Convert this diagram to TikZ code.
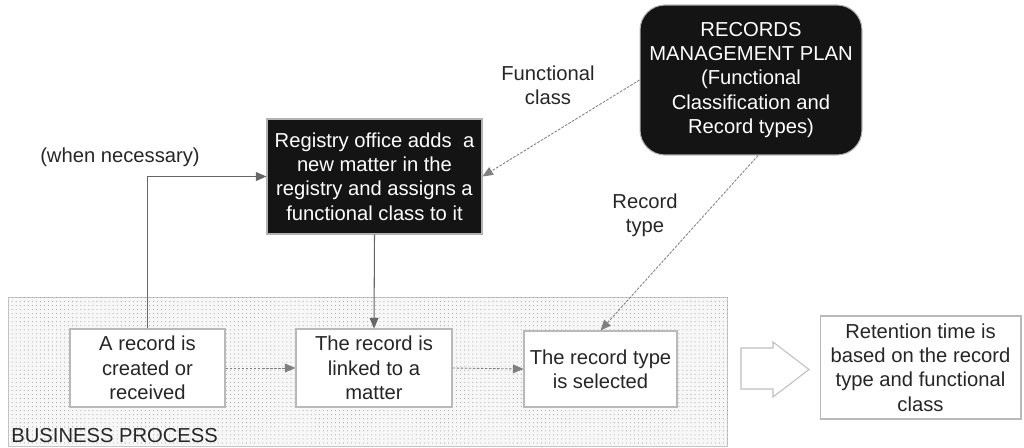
\documentclass[tikz,border=0pt]{standalone}
\usepackage{fontspec}
\setmainfont{Liberation Sans}
\usetikzlibrary{arrows.meta}
\usetikzlibrary{positioning}
\usetikzlibrary{patterns.meta}
\tikzset{
    stepnode/.style = {align=center, inner sep=0pt, text centered,
        font=\fontsize{11.5}{13.9}\selectfont, text=black!85},
    rec_w/.style = {stepnode, rectangle, draw=gray!55, fill=white, line width=0.6pt},% white step box
    rec_b/.style = {stepnode, rectangle, draw=gray!60, fill=black!92, text=white, line width=0.6pt},% black box
    lbl/.style = {stepnode},% free label
    linkarr/.style = {draw=gray!80!black, line width=0.6pt,
        -{Triangle[length=6pt,width=5pt]}},% solid connector
    dotarr/.style = {linkarr, gray, line width=0.5pt, dash pattern=on 1.5pt off 0.8pt},% dashed connector
}
\begin{document}
\begin{tikzpicture}[x=0.02cm, y=-0.02cm]
\useasboundingbox (0,0) rectangle (1024,447);
% business process area
\node [draw=gray!45, line width=0.5pt, fill=gray!6,
    postaction={pattern={Dots[distance=2.3pt, radius=0.32pt]}, pattern color=gray!70},
    minimum width=14.4cm, minimum height=2.98cm, inner sep=0pt] (bp) at (368,371.5) {};
\node [lbl, anchor=south west] (bplbl) at (11,443) {BUSINESS PROCESS};
% steps
\node [rec_w, minimum width=3.1cm, minimum height=1.56cm] (recA) at (147.5,368)
    {A record is\\created or\\received};
\node [rec_w, minimum width=3.12cm, minimum height=1.56cm] (recB) at (374,368)
    {The record is\\linked to a\\matter};
\node [rec_w, minimum width=3.06cm, minimum height=1.52cm] (recC) at (600.5,369)
    {The record type\\is selected};
\node [rec_w, minimum width=4.02cm, minimum height=2.06cm] (ret) at (920.5,367.5)
    {Retention time is\\based on the record\\type and functional\\class};
% hollow block arrow
\draw [draw=gray!50, fill=white, line width=0.6pt, line join=miter]
    (741,348) -- (773,348) -- (773,342) -- (809,369.5) -- (773,397)
    -- (773,389) -- (741,389) -- cycle;
% registry and plan
\node [rec_b, minimum width=4.3cm, minimum height=2.3cm] (reg) at (374.5,176.5)
    {Registry office adds\ \ a\\new matter in the\\registry and assigns a\\functional class to it};
\node [rec_b, rounded corners=0.5cm, minimum width=4.44cm, minimum height=3cm] (plan) at (751,80)
    {RECORDS\\MANAGEMENT PLAN\\(Functional\\Classification and\\Record types)};
% labels
\node [lbl] (funclbl) at (548,85) {Functional\\class};
\node [lbl] (typelbl) at (645,215) {Record\\type};
\node [lbl] (needlbl) at (120,157) {(when necessary)};
% connectors
\draw [linkarr] (recA.north) |- (reg.west);
\draw [linkarr] (reg.south) -- (recB.north);
\draw [dotarr] (plan.west) -- (reg.east);
\draw [dotarr] ([xshift=0.14cm]plan.south) -- (recC.north);
\draw [dotarr] (recA.east) -- (recB.west);
\draw [dotarr] (recB.east) -- (recC.west);
\end{tikzpicture}
\end{document}
